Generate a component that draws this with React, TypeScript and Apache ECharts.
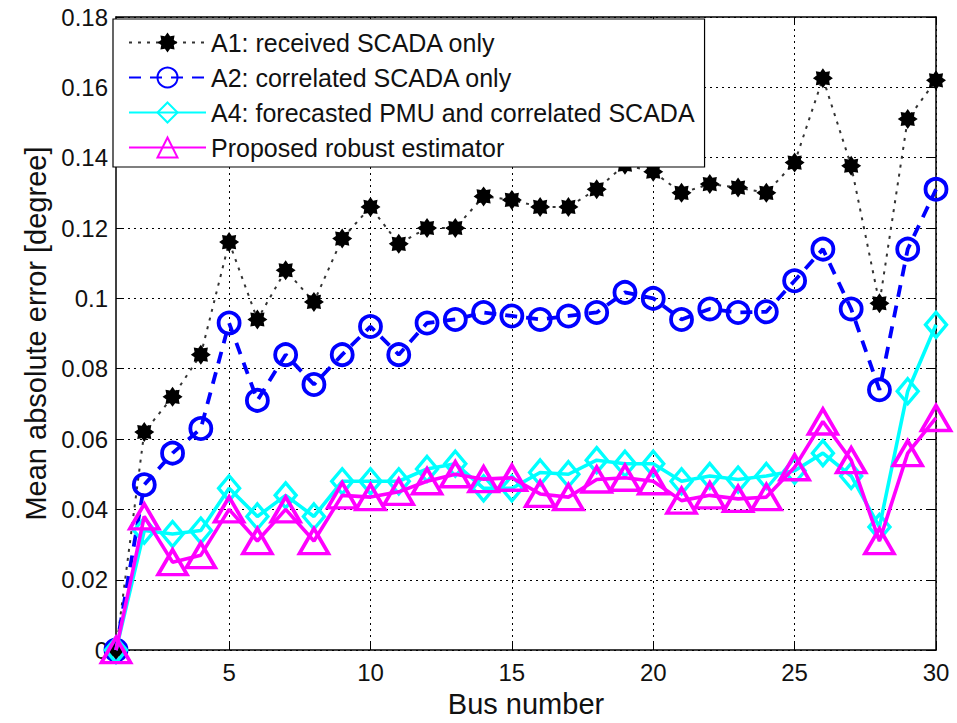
import React, { useEffect, useRef } from "react";
import * as echarts from "echarts";

const buses = [1, 2, 3, 4, 5, 6, 7, 8, 9, 10, 11, 12, 13, 14, 15, 16, 17, 18, 19, 20, 21, 22, 23, 24, 25, 26, 27, 28, 29, 30];

const a1Received = [0, 0.062, 0.072, 0.084, 0.116, 0.094, 0.108, 0.099, 0.117, 0.126, 0.1155, 0.12, 0.12, 0.129, 0.128, 0.126, 0.126, 0.131, 0.138, 0.136, 0.13, 0.1325, 0.1315, 0.13, 0.1386, 0.1626, 0.1377, 0.0986, 0.151, 0.162];
const a2Correlated = [0, 0.047, 0.056, 0.063, 0.093, 0.071, 0.084, 0.0755, 0.084, 0.092, 0.084, 0.093, 0.094, 0.096, 0.095, 0.094, 0.095, 0.096, 0.1017, 0.1, 0.094, 0.097, 0.096, 0.0962, 0.105, 0.114, 0.097, 0.074, 0.114, 0.131];
const a4Forecasted = [0, 0.034, 0.033, 0.034, 0.046, 0.038, 0.044, 0.038, 0.048, 0.048, 0.048, 0.0515, 0.053, 0.046, 0.046, 0.0505, 0.05, 0.054, 0.053, 0.053, 0.048, 0.0495, 0.0485, 0.0495, 0.051, 0.056, 0.0495, 0.035, 0.0736, 0.0925];
const proposedRobust = [0, 0.038, 0.025, 0.027, 0.04, 0.031, 0.04, 0.031, 0.044, 0.0435, 0.045, 0.048, 0.05, 0.0486, 0.049, 0.0444, 0.0435, 0.0485, 0.049, 0.048, 0.0425, 0.044, 0.043, 0.0435, 0.052, 0.065, 0.054, 0.031, 0.056, 0.066];

const seriesNames = [
  "A1: received SCADA only",
  "A2: correlated SCADA only",
  "A4: forecasted PMU and correlated SCADA",
  "Proposed robust estimator",
];

const yTicks = { min: 0, max: 0.18, interval: 0.02 };

function starPath(): string {
  const pts: string[] = [];
  const n = 8;
  for (let k = 0; k < n * 2; k++) {
    const r = k % 2 === 0 ? 10 : 6.8;
    const ang = (Math.PI * k) / n - Math.PI / 2;
    pts.push(`${(10 + r * Math.cos(ang)).toFixed(2)} ${(10 + r * Math.sin(ang)).toFixed(2)}`);
  }
  return "path://M" + pts.join(" L") + " Z";
}

const FONT = "Liberation Sans, Arial, Helvetica, sans-serif";

export default function App() {
  const ref = useRef<HTMLDivElement>(null);
  useEffect(() => {
    if (!ref.current) return;
    const chart = echarts.init(ref.current, undefined, { renderer: "svg" });
    const showEvery5 = (i: number) => (i + 1) % 5 === 0;
    const gridDash = { color: "#000", width: 1, type: [2, 4] as number[] };
    chart.setOption({
      animation: false,
      backgroundColor: "#fff",
      textStyle: { fontFamily: FONT },
      grid: { left: 116, right: 21, top: 17, bottom: 69, containLabel: false },
      legend: {
        orient: "vertical",
        left: 113,
        top: 19,
        data: seriesNames,
        backgroundColor: "#fff",
        borderColor: "#000",
        borderWidth: 1.2,
        padding: [11, 10, 7, 15],
        itemWidth: 77,
        itemHeight: 25,
        itemGap: 10,
        textStyle: { fontSize: 25, color: "#111", fontFamily: FONT },
        z: 10,
      },
      xAxis: [
        {
          type: "category",
          data: buses,
          boundaryGap: false,
          name: "Bus number",
          nameLocation: "middle",
          nameGap: 36,
          nameTextStyle: { fontSize: 29, color: "#111", fontFamily: FONT },
          axisLine: { show: true, lineStyle: { color: "#000", width: 1.5 } },
          axisTick: { show: true, inside: true, length: 8, interval: showEvery5, lineStyle: { color: "#000" } },
          axisLabel: { interval: showEvery5, fontSize: 24, color: "#111", margin: 10, fontFamily: FONT },
          splitLine: { show: true, interval: showEvery5, lineStyle: gridDash },
        },
        {
          type: "category",
          data: buses,
          boundaryGap: false,
          position: "top",
          axisLine: { show: true, onZero: false, lineStyle: { color: "#000", width: 1.5 } },
          axisTick: { show: true, inside: true, length: 8, interval: showEvery5, lineStyle: { color: "#000" } },
          axisLabel: { show: false },
          splitLine: { show: false },
        },
      ],
      yAxis: [
        {
          type: "value",
          min: yTicks.min,
          max: yTicks.max,
          interval: yTicks.interval,
          name: "Mean absolute error [degree]",
          nameLocation: "middle",
          nameGap: 66,
          nameTextStyle: { fontSize: 29, color: "#111", fontFamily: FONT },
          axisLine: { show: true, lineStyle: { color: "#000", width: 1.5 } },
          axisTick: { show: true, inside: true, length: 8, lineStyle: { color: "#000" } },
          axisLabel: { fontSize: 24, color: "#111", margin: 8, fontFamily: FONT },
          splitLine: { show: true, lineStyle: gridDash },
        },
        {
          type: "value",
          min: yTicks.min,
          max: yTicks.max,
          interval: yTicks.interval,
          position: "right",
          axisLine: { show: true, onZero: false, lineStyle: { color: "#000", width: 1.5 } },
          axisTick: { show: true, inside: true, length: 8, lineStyle: { color: "#000" } },
          axisLabel: { show: false },
          splitLine: { show: false },
        },
      ],
      series: [
        {
          name: seriesNames[0],
          type: "line",
          data: a1Received,
          clip: false,
          showAllSymbol: true,
          symbol: starPath(),
          symbolSize: 20,
          itemStyle: { color: "#000" },
          lineStyle: { color: "#333", width: 2, type: [3, 6] },
          z: 2,
        },
        {
          name: seriesNames[1],
          type: "line",
          data: a2Correlated,
          clip: false,
          showAllSymbol: true,
          symbol: "circle",
          symbolSize: 21,
          itemStyle: { color: "rgba(0,0,0,0)", borderColor: "#0000ff", borderWidth: 3.8 },
          lineStyle: { color: "#0000ff", width: 3.8, type: [12, 9] },
          z: 3,
        },
        {
          name: seriesNames[2],
          type: "line",
          data: a4Forecasted,
          clip: false,
          showAllSymbol: true,
          symbol: "diamond",
          symbolSize: [21, 25],
          itemStyle: { color: "rgba(0,0,0,0)", borderColor: "#00ffff", borderWidth: 3.4 },
          lineStyle: { color: "#00ffff", width: 3.6 },
          z: 4,
        },
        {
          name: seriesNames[3],
          type: "line",
          data: proposedRobust,
          clip: false,
          showAllSymbol: true,
          symbol: "triangle",
          symbolSize: [29, 25],
          itemStyle: { color: "rgba(0,0,0,0)", borderColor: "#ff00ff", borderWidth: 3.6 },
          lineStyle: { color: "#ff00ff", width: 3.6 },
          z: 5,
        },
      ],
    });
    return () => chart.dispose();
  }, []);
  return (
    <div
      ref={ref}
      style={{ position: "fixed", left: 0, top: 0, width: 957, height: 723, background: "#fff" }}
    />
  );
}
